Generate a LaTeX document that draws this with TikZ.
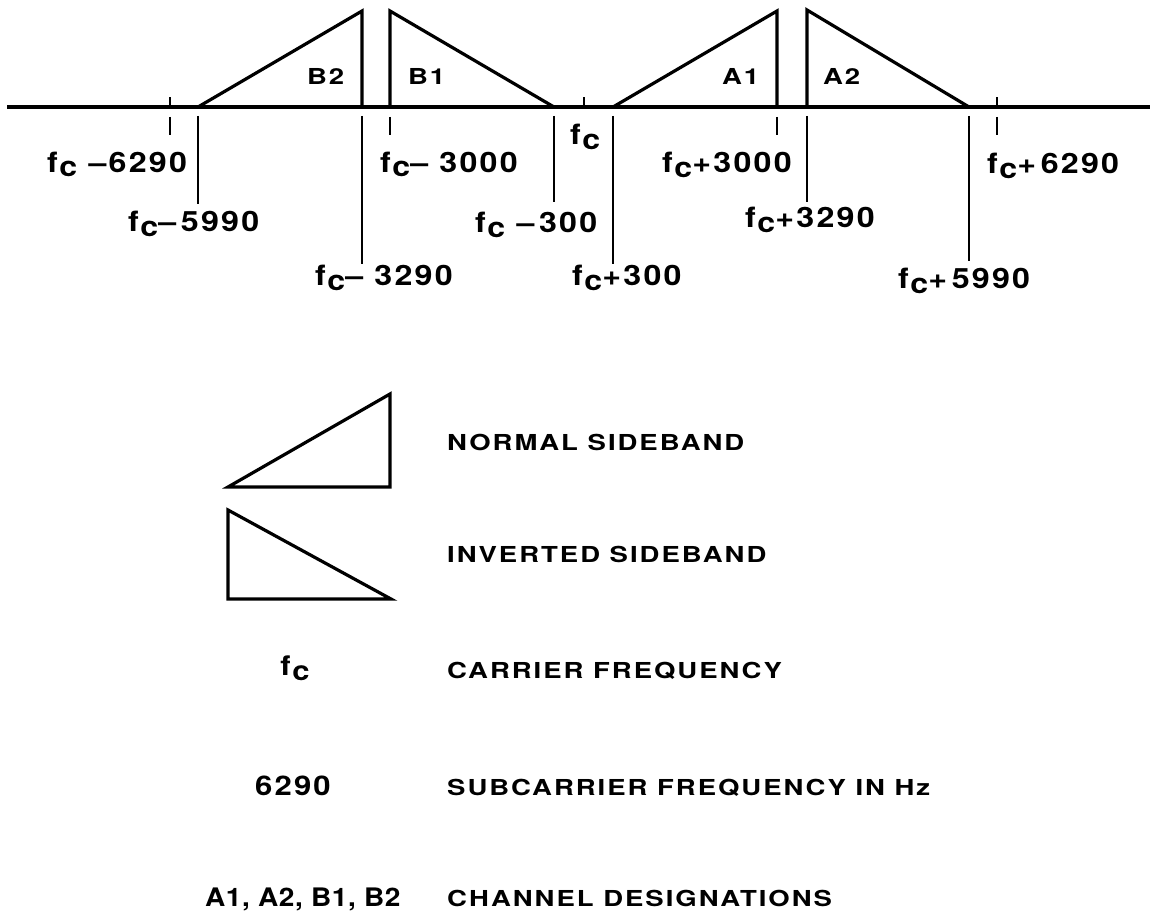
\documentclass[tikz,border=0pt]{standalone}
\usepackage{fontspec}
\usetikzlibrary{calc}
\setmainfont{TeX Gyre Heros}
\newfontfamily\labfont{TeX Gyre Heros}[LetterSpace=8, FakeStretch=1.15]
\newfontfamily\legfont{TeX Gyre Heros}[LetterSpace=9, FakeStretch=1.25]
\newfontfamily\keyfont{TeX Gyre Heros}[LetterSpace=2, FakeStretch=1.1]
\newfontfamily\chanfont{TeX Gyre Heros}[LetterSpace=8, FakeStretch=1.25]
\newcommand\fcsym{f\kern1.5pt\raisebox{-5pt}{c}}
\begin{document}
\begin{tikzpicture}[x=1pt,y=-1pt,
  heavy/.style={line width=3.2pt, line join=miter, line cap=butt},
  light/.style={line width=1.7pt},
  lab/.style={anchor=base west, inner sep=0pt, font=\labfont\bfseries\fontsize{28}{32}\selectfont},
  chan/.style={anchor=base west, inner sep=0pt, font=\chanfont\bfseries\fontsize{22}{26}\selectfont},
  leg/.style={anchor=base west, inner sep=0pt, font=\legfont\bfseries\fontsize{22}{26}\selectfont},
  key/.style={anchor=base, inner sep=0pt, font=\labfont\bfseries\fontsize{27}{32}\selectfont}]
\useasboundingbox (0,0) rectangle (1150,912);

% key frequencies on the axis
\coordinate (L) at (7,107);
\coordinate (R) at (1150,107);
\coordinate (m6290) at (170,107);
\coordinate (m5990) at (198,107);
\coordinate (m3290) at (362,107);
\coordinate (m3000) at (390,107);
\coordinate (m300) at (554,107);
\coordinate (fc) at (584,107);
\coordinate (p300) at (613,107);
\coordinate (p3000) at (777,107);
\coordinate (p3290) at (807,107);
\coordinate (p5990) at (969,107);
\coordinate (p6290) at (997,107);

% axis
\draw[heavy] (L) -- (R);

% spectra
\draw[heavy] (m5990) -- (m3290 |- 0,11) -- (m3290);
\draw[heavy] (m3000) -- (m3000 |- 0,11) -- (m300);
\draw[heavy] (p300) -- (p3000 |- 0,11) -- (p3000);
\draw[heavy] (p3290) -- (p3290 |- 0,10) -- (p5990);

% short ticks above
\foreach \c in {m6290,fc,p6290} \draw[light] (\c) -- ++(0,-10);
% short ticks below
\foreach \c in {m6290,m3000,p3000,p6290} \draw[light] ($(\c)+(0,10)$) -- ++(0,18);
% long lines below
\draw[light] ($(m5990)+(0,9)$) -- ++(0,88);
\draw[light] ($(m3290)+(0,9)$) -- ++(0,148);
\draw[light] ($(m300)+(0,9)$) -- ++(0,86);
\draw[light] ($(p300)+(0,9)$) -- ++(0,148);
\draw[light] ($(p3290)+(0,9)$) -- ++(0,86);
\draw[light] ($(p5990)+(0,9)$) -- ++(0,145);

% channel labels
\node[chan] (B2) at (307,85) {B2};
\node[chan] (B1) at (408,85) {B1};
\node[chan] (A1) at (722,85) {A1};
\node[chan] (A2) at (823,85) {A2};

% frequency labels
\node[lab] (tm6290) at (47,172) {\fcsym\ –6290};
\node[lab] (tm5990) at (128,231) {\fcsym–\,5990};
\node[lab] (tm3290) at (315,285) {\fcsym–\ 3290};
\node[lab] (tm3000) at (380,172) {\fcsym–\ 3000};
\node[lab] (tm300) at (475,232) {\fcsym\ –\,300};
\node[lab] (tfc) at (570,145) {\fcsym};
\node[lab] (tp300) at (572,285) {\fcsym+300};
\node[lab] (tp3000) at (662,173) {\fcsym+3000};
\node[lab] (tp3290) at (745,227) {\fcsym+3290};
\node[lab] (tp5990) at (898,288) {\fcsym+\,5990};
\node[lab] (tp6290) at (987,174) {\fcsym+\,6290};

% legend
\draw[heavy] (228,487) -- (390,394) -- (390,487) -- cycle;
\draw[heavy] (228,510) -- (228,599) -- (391,599) -- cycle;
\node[leg] (l1) at (447,450) {NORMAL SIDEBAND};
\node[leg] (l2) at (447,562) {INVERTED SIDEBAND};
\node[key] (k3) at (295,675) {\fcsym};
\node[leg] (l3) at (447,678) {CARRIER FREQUENCY};
\node[key] (k4) at (293,795) {6290};
\node[key, anchor=base west, font=\keyfont\bfseries\fontsize{25.5}{30}\selectfont] (k5) at (205,906) {A1, A2, B1, B2};
\node[leg] (l4) at (447,795) {SUBCARRIER FREQUENCY IN Hz};
\node[leg] (l5) at (447,906) {CHANNEL DESIGNATIONS};
\end{tikzpicture}
\end{document}
